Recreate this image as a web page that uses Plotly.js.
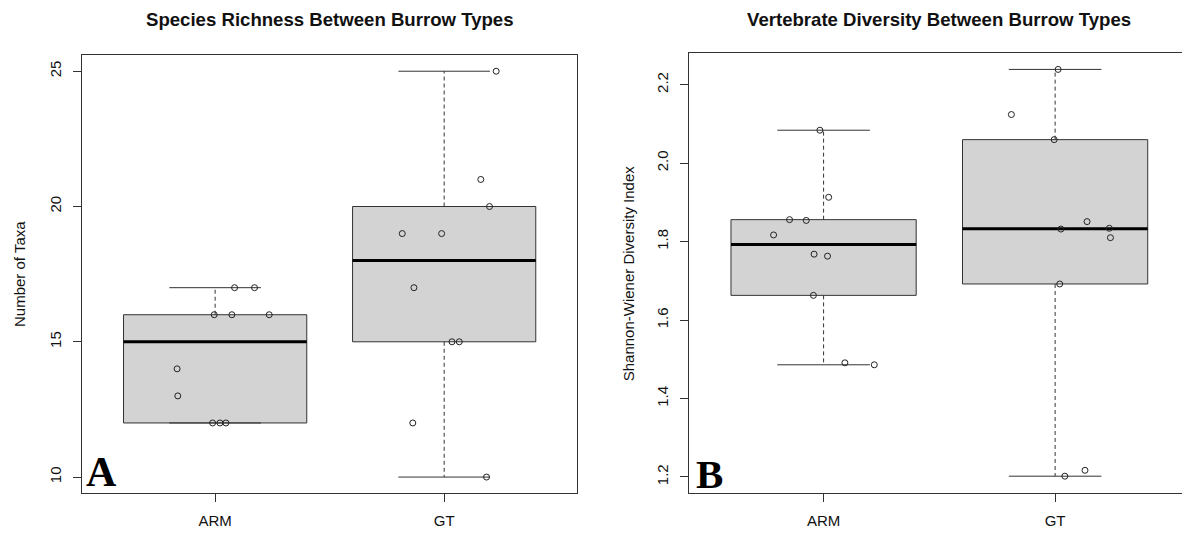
<!DOCTYPE html>
<html>
<head>
<meta charset="utf-8">
<script src="https://cdn.plot.ly/plotly-3.0.1.min.js"></script>
<style>
html,body{margin:0;padding:0;overflow:hidden;background:#fff;}
#chart{width:1190px;height:535px;}
</style>
</head>
<body>
<div id="chart"></div>
<script>
// ---- data ----
const groups = ['ARM', 'GT'];
const groupPos = [1, 2];

// Panel A: Number of taxa per burrow
const richARM = [17, 17, 16, 16, 16, 14, 13, 12, 12, 12];
const richARMx = [1.085, 1.172, 0.996, 1.073, 1.236, 0.834, 0.837, 0.989, 1.021, 1.047];
const richGT = [25, 21, 20, 19, 19, 17, 15, 15, 12, 10];
const richGTx = [2.227, 2.160, 2.198, 1.817, 1.989, 1.868, 2.034, 2.066, 1.863, 2.185];

// Panel B: Shannon-Wiener diversity per burrow
const divARM = [2.084, 1.913, 1.856, 1.854, 1.817, 1.768, 1.763, 1.663, 1.491, 1.486];
const divARMx = [0.984, 1.022, 0.853, 0.925, 0.784, 0.959, 1.017, 0.956, 1.092, 1.219];
const divGT = [2.239, 2.124, 2.060, 1.851, 1.832, 1.834, 1.810, 1.692, 1.202, 1.217];
const divGTx = [2.013, 1.811, 1.996, 2.138, 2.025, 2.234, 2.239, 2.020, 2.042, 2.129];

const richTicks = [10, 15, 20, 25];
const divTicks = [1.2, 1.4, 1.6, 1.8, 2.0, 2.2];

// ---- helpers ----
function fivenum(a) {
  const s = [...a].sort((p, q) => p - q);
  const n = s.length;
  const n4 = Math.floor((n + 3) / 2) / 2;
  const d = [1, n4, (n + 1) / 2, n + 1 - n4, n];
  return d.map(v => 0.5 * (s[Math.floor(v) - 1] + s[Math.ceil(v) - 1]));
}
function boxStats(a) {
  const f = fivenum(a);
  const iqr = f[3] - f[1];
  const lo = Math.min(...a.filter(v => v >= f[1] - 1.5 * iqr));
  const hi = Math.max(...a.filter(v => v <= f[3] + 1.5 * iqr));
  return {q1: f[1], med: f[2], q3: f[3], lo: lo, hi: hi};
}

const LINE = '#333';
const BW = 0.8, SW = 0.4;
const traces = [];

function addBox(vals, xs, pos, xa, ya) {
  const s = boxStats(vals);
  const l = pos - BW / 2, r = pos + BW / 2;
  traces.push({type: 'scatter', mode: 'lines', xaxis: xa, yaxis: ya,
    x: [l, r, r, l, l], y: [s.q1, s.q1, s.q3, s.q3, s.q1],
    fill: 'toself', fillcolor: '#d3d3d3', line: {color: LINE, width: 1}, hoverinfo: 'skip'});
  // dashed whiskers
  traces.push({type: 'scatter', mode: 'lines', xaxis: xa, yaxis: ya,
    x: [pos, pos, null, pos, pos], y: [s.q3, s.hi, null, s.q1, s.lo],
    line: {color: LINE, width: 1, dash: '4px,3px'}, hoverinfo: 'skip'});
  // staples
  traces.push({type: 'scatter', mode: 'lines', xaxis: xa, yaxis: ya,
    x: [pos - SW / 2, pos + SW / 2, null, pos - SW / 2, pos + SW / 2],
    y: [s.hi, s.hi, null, s.lo, s.lo],
    line: {color: LINE, width: 1}, hoverinfo: 'skip'});
  // median
  traces.push({type: 'scatter', mode: 'lines', xaxis: xa, yaxis: ya,
    x: [l, r], y: [s.med, s.med], line: {color: '#000', width: 3}, hoverinfo: 'skip'});
  // jittered points
  traces.push({type: 'scatter', mode: 'markers', xaxis: xa, yaxis: ya,
    x: xs, y: vals,
    marker: {symbol: 'circle-open', size: 6, color: '#222', line: {width: 1}}});
}

addBox(richARM, richARMx, groupPos[0], 'x', 'y');
addBox(richGT, richGTx, groupPos[1], 'x', 'y');
addBox(divARM, divARMx, groupPos[0], 'x2', 'y2');
addBox(divGT, divGTx, groupPos[1], 'x2', 'y2');

// ---- layout ----
const W = 1190, H = 535;
const px = v => v / W;
const py = v => 1 - v / H;
const FONT = 'Liberation Sans, Arial, sans-serif';

const axBase = {
  showline: true, mirror: true, linecolor: LINE, linewidth: 1,
  ticks: 'outside', ticklen: 8, tickcolor: LINE, tickwidth: 1,
  showgrid: false, zeroline: false, fixedrange: true,
  tickfont: {family: FONT, size: 15, color: '#111'}
};

const layout = {
  width: W, height: H,
  margin: {l: 0, r: 0, t: 0, b: 0},
  paper_bgcolor: '#fff', plot_bgcolor: '#fff',
  showlegend: false,
  xaxis: Object.assign({}, axBase, {
    domain: [px(82.3), px(577)], range: [0.42, 2.58],
    tickvals: groupPos, ticktext: groups, anchor: 'y', ticklabelstandoff: 6}),
  yaxis: Object.assign({}, axBase, {
    domain: [py(493.3), py(55)], range: [9.4, 25.6],
    tickvals: richTicks, ticktext: richTicks.map(String), tickangle: -90, anchor: 'x', ticklabelstandoff: 6}),
  xaxis2: Object.assign({}, axBase, {
    domain: [px(689.3), px(1189.4)], range: [0.42, 2.58],
    tickvals: groupPos, ticktext: groups, anchor: 'y2', ticklabelstandoff: 6}),
  yaxis2: Object.assign({}, axBase, {
    domain: [py(493.3), py(52.7)], range: [1.1584, 2.2816],
    tickvals: divTicks, ticktext: divTicks.map(v => v.toFixed(1)), tickangle: -90, anchor: 'x2', ticklabelstandoff: 6}),
  annotations: [
    {text: '<b>Species Richness Between Burrow Types</b>', xref: 'paper', yref: 'paper',
     x: px(329.6), y: py(19.5), xanchor: 'center', yanchor: 'middle', showarrow: false,
     font: {family: FONT, size: 18.6, color: '#111'}},
    {text: '<b>Vertebrate Diversity Between Burrow Types</b>', xref: 'paper', yref: 'paper',
     x: px(939.4), y: py(19.5), xanchor: 'center', yanchor: 'middle', showarrow: false,
     font: {family: FONT, size: 18.6, color: '#111'}},
    {text: 'Number of Taxa', xref: 'paper', yref: 'paper', textangle: -90,
     x: px(19), y: py(274), xanchor: 'center', yanchor: 'middle', showarrow: false,
     font: {family: FONT, size: 15, color: '#111'}},
    {text: 'Shannon-Wiener Diversity Index', xref: 'paper', yref: 'paper', textangle: -90,
     x: px(628.3), y: py(273), xanchor: 'center', yanchor: 'middle', showarrow: false,
     font: {family: FONT, size: 15, color: '#111'}},
    {text: '<b>A</b>', xref: 'paper', yref: 'paper',
     x: px(101.3), y: py(472), xanchor: 'center', yanchor: 'middle', showarrow: false,
     font: {family: 'Liberation Serif, Times New Roman, serif', size: 42, color: '#000'}},
    {text: '<b>B</b>', xref: 'paper', yref: 'paper',
     x: px(709.3), y: py(473.5), xanchor: 'center', yanchor: 'middle', showarrow: false,
     font: {family: 'Liberation Serif, Times New Roman, serif', size: 41, color: '#000'}}
  ]
};

Plotly.newPlot('chart', traces, layout, {displayModeBar: false, staticPlot: true});
</script>
</body>
</html>
